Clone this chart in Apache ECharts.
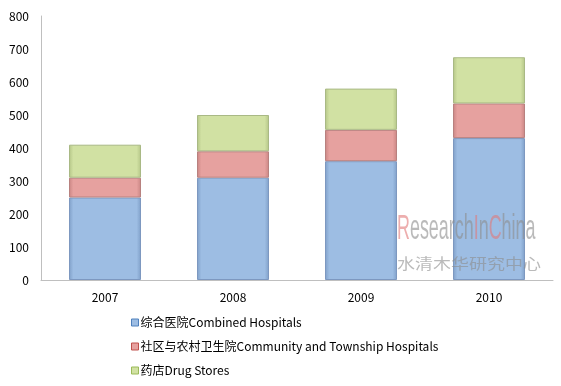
<!DOCTYPE html>
<html><head><meta charset="utf-8">
<script src="https://cdn.jsdelivr.net/npm/echarts@6/dist/echarts.min.js"></script>
<style>html,body{margin:0;padding:0;background:#fff}#c{width:561px;height:386px}</style>
</head><body><div id="c"></div>
<script>
var categories = ['2007', '2008', '2009', '2010'];
var seriesNames = ['综合医院Combined Hospitals', '社区与农村卫生院Community and Township Hospitals', '药店Drug Stores'];
var combined = [250, 310, 360, 430];
var community = [60, 80, 95, 105];
var drugStores = [100, 110, 125, 140];
var yTicks = [0, 100, 200, 300, 400, 500, 600, 700, 800];

function grad(mid, bot) {
  return new echarts.graphic.LinearGradient(0, 0, 1, 0, [
    {offset: 0, color: bot}, {offset: 0.06, color: mid}, {offset: 0.94, color: mid}, {offset: 1, color: bot}
  ]);
}
var styles = [
  {color: grad('#9dbde3', '#7f9fc8'), borderColor: '#7d98c0'},
  {color: grad('#e6a19f', '#c98583'), borderColor: '#b8817f'},
  {color: grad('#d1e1a3', '#b4c587'), borderColor: '#a9b985'}
];
var dataSets = [combined, community, drugStores];
var font = '"Noto Sans CJK SC", "Liberation Sans", sans-serif';

var chart = echarts.init(document.getElementById('c'));
chart.setOption({
  animation: false,
  grid: {left: 41, right: 8, top: 16, bottom: 106},
  xAxis: {
    type: 'category', data: categories,
    axisLine: {lineStyle: {color: '#bfbfbf', width: 1}},
    axisTick: {show: false},
    axisLabel: {color: '#000', fontSize: 12, fontFamily: font, margin: 11}
  },
  yAxis: {
    type: 'value', min: 0, max: 800, interval: 100,
    axisLine: {show: true, lineStyle: {color: '#bfbfbf'}},
    axisTick: {show: false},
    splitLine: {show: false},
    axisLabel: {color: '#000', fontSize: 12, fontFamily: font, margin: 12,
      formatter: function (v) { return yTicks.indexOf(v) >= 0 ? String(v) : ''; }}
  },
  legend: {
    orient: 'vertical', left: 131, top: 314, padding: 0, itemGap: 7, height: 80,
    itemWidth: 7, itemHeight: 7, icon: 'rect',
    textStyle: {color: '#000', fontSize: 12, fontFamily: font, padding: [0, 0, 0, -3], lineHeight: 17},
    data: seriesNames.map(function (n, i) {
      return {name: n, itemStyle: {color: ['#9dbde3', '#e6a19f', '#d1e1a3'][i], borderColor: ['#4f81bd', '#c0504d', '#9bbb59'][i], borderWidth: 1}};
    })
  },
  graphic: [
    {type: 'text', x: 397, y: 212, z: 100, scaleX: 0.56, scaleY: 1.1,
      style: {text: '{r|R}{g|esearch}{r|I}{g|n}{r|C}{g|hina}', fontSize: 32, fontFamily: 'Liberation Sans',
        rich: {
          r: {fill: 'rgba(225,120,120,0.6)', fontSize: 32, fontFamily: 'Liberation Sans'},
          g: {fill: 'rgba(140,140,140,0.6)', fontSize: 32, fontFamily: 'Liberation Sans'}
        }}},
    {type: 'text', x: 397, y: 256, z: 100, scaleX: 1.2, scaleY: 1,
      style: {text: '水清木华研究中心', fill: 'rgba(140,140,140,0.6)', fontSize: 15, fontFamily: '"Noto Sans CJK SC"'}}
  ],
  series: dataSets.map(function (d, i) {
    return {
      name: seriesNames[i], type: 'bar', stack: 'total', data: d,
      barWidth: 72,
      itemStyle: {color: styles[i].color, borderColor: styles[i].borderColor, borderWidth: 1}
    };
  })
});
</script></body></html>
